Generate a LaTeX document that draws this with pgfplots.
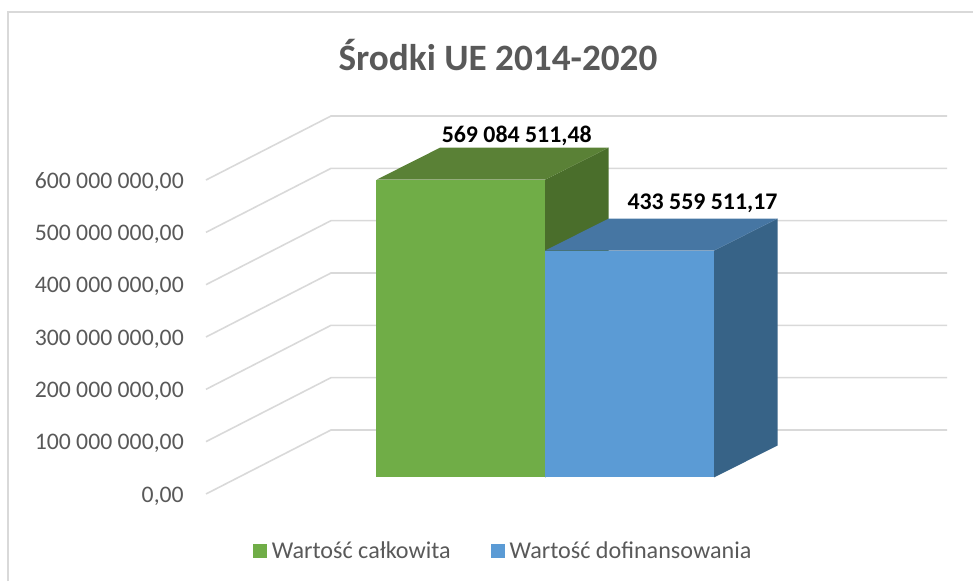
\documentclass[border=0pt]{standalone}
\usepackage{pgfplots}
\pgfplotsset{compat=1.18}
\usepackage{fontspec}
\setmainfont{Carlito}
\definecolor{gf}{HTML}{70AD47}\definecolor{gt}{HTML}{5A8136}\definecolor{gs}{HTML}{4A6E2B}
\definecolor{bf}{HTML}{5B9BD5}\definecolor{bt}{HTML}{4676A3}\definecolor{bs}{HTML}{376387}
\definecolor{gridc}{HTML}{D9D9D9}\definecolor{txt}{HTML}{595959}
\begin{document}
\begin{tikzpicture}[x=0.75pt,y=0.75pt]
\useasboundingbox (0,0) rectangle (973,581);
\begin{axis}[
 at={(0,0)},anchor=south west,scale only axis,width=729.75pt,height=435.75pt,
 xmin=0,xmax=973,ymin=-197.8,ymax=912.5,clip=false,
 axis x line=none,axis y line=left,y axis line style={draw=none},
 major tick length=0pt,
 ytick={-31.5,68.5,168.5,268.5,368.5,468.5,568.5},
 yticklabels={{0,00},{100 000 000,00},{200 000 000,00},{300 000 000,00},{400 000 000,00},{500 000 000,00},{600 000 000,00}},
 yticklabel style={font=\fontsize{17.8}{20}\selectfont,text=txt,anchor=east,xshift=138pt,yshift=-1.5pt,inner sep=0pt},
 legend style={draw=none,fill=none,at={(axis cs:253,-140)},anchor=west,legend columns=2,
   font=\fontsize{18.1}{20}\selectfont,text=txt,inner sep=0pt,
   /tikz/every even column/.append style={column sep=28.2pt}},
]
% frame
\addplot[gridc,line width=1.2pt,forget plot] coordinates {(8,-197.8)(8,889.6)(973,889.6)};
% gridlines
\addplot[gridc,line width=1.2pt,forget plot] coordinates {(206,-31.5)(331,90.8)(947,90.8)};
\addplot[gridc,line width=1.2pt,forget plot] coordinates {(206,68.5)(331,190.8)(947,190.8)};
\addplot[gridc,line width=1.2pt,forget plot] coordinates {(206,168.5)(331,290.8)(947,290.8)};
\addplot[gridc,line width=1.2pt,forget plot] coordinates {(206,268.5)(331,390.8)(947,390.8)};
\addplot[gridc,line width=1.2pt,forget plot] coordinates {(206,368.5)(331,490.8)(947,490.8)};
\addplot[gridc,line width=1.2pt,forget plot] coordinates {(206,468.5)(331,590.8)(947,590.8)};
\addplot[gridc,line width=1.2pt,forget plot] coordinates {(206,568.5)(331,690.8)(947,690.8)};
% green
\addplot[fill=gs,draw=none,forget plot] coordinates {(545,0)(608.5,61.15)(608.5,630.23)(545,569.08)} --cycle;
\addplot[fill=gt,draw=none,forget plot] coordinates {(376.5,569.08)(440,630.23)(608.5,630.23)(545,569.08)} --cycle;
\addplot[ybar,bar shift=0pt,bar width=126.4pt,fill=gf,draw=none,
  legend image code/.code={\fill[gf] (0pt,-5.25pt) rectangle (10.5pt,5.25pt);\path (12pt,0pt);},
  nodes near coords={\textbf{569 084 511,48}},
  nodes near coords align={center},
  every node near coord/.append style={font=\fontsize{17.9}{20}\selectfont,text=black,anchor=center,xshift=42pt,yshift=33pt}]
  coordinates {(460.75,569.0845)};
\addlegendentry{Wartość całkowita}
% blue
\addplot[fill=bs,draw=none,forget plot] coordinates {(714,0)(777.5,61.15)(777.5,494.71)(714,433.56)} --cycle;
\addplot[fill=bt,draw=none,forget plot] coordinates {(545,433.56)(608.5,494.71)(777.5,494.71)(714,433.56)} --cycle;
\addplot[ybar,bar shift=0pt,bar width=126.4pt,fill=bf,draw=none,
  legend image code/.code={\fill[bf] (0pt,-5.25pt) rectangle (10.5pt,5.25pt);\path (12pt,0pt);},
  nodes near coords={\textbf{433 559 511,17}},
  nodes near coords align={center},
  every node near coord/.append style={font=\fontsize{17.9}{20}\selectfont,text=black,anchor=center,xshift=54.75pt,yshift=35.25pt}]
  coordinates {(629.5,433.5595)};
\addlegendentry{Wartość dofinansowania}
\node[font=\fontsize{27.9}{32}\selectfont\bfseries,text=txt,anchor=center] at (axis cs:498,808) {Środki UE 2014-2020};
\end{axis}
\end{tikzpicture}
\end{document}
